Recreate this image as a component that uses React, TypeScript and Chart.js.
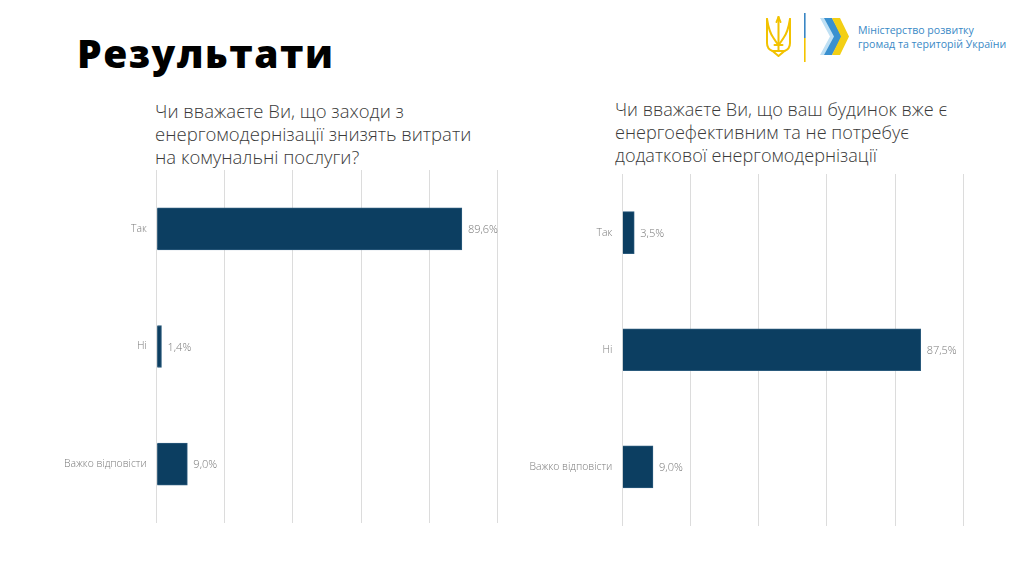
import React, { useEffect, useRef } from "react";
import { Chart, registerables } from "chart.js";

Chart.register(...registerables);

const pageTitle = "Результати";
const leftQuestion = ["Чи вважаєте Ви, що заходи з", "енергомодернізації знизять витрати", "на комунальні послуги?"];
const rightQuestion = ["Чи вважаєте Ви, що ваш будинок вже є", "енергоефективним та не потребує", "додаткової енергомодернізації"];
const categories = ["Так", "Ні", "Важко відповісти"];
const leftValues = [89.6, 1.4, 9.0];
const rightValues = [3.5, 87.5, 9.0];
const ministryLines = ["Міністерство розвитку", "громад та територій України"];

const BAR = "#0c3e61";
const GRID = "#dcdcdc";
const TICK = "#7a7a7a";
const FONT = "'Open Sans', 'Noto Sans', sans-serif";

const labelPlugin = {
  id: "barValueLabels",
  afterDatasetsDraw(chart: any) {
    const ctx = chart.ctx;
    ctx.save();
    ctx.font = `300 11px ${FONT}`;
    ctx.fillStyle = TICK;
    ctx.textAlign = "left";
    ctx.textBaseline = "middle";
    chart.data.datasets.forEach((ds: any, di: number) => {
      const meta = chart.getDatasetMeta(di);
      meta.data.forEach((bar: any, i: number) => {
        const v = ds.data[i] as number;
        const txt = v.toFixed(1).replace(".", ",") + "%";
        ctx.fillText(txt, bar.x + 6, bar.y + 1);
      });
    });
    ctx.restore();
  },
};

function BarChart(props: { values: number[]; width: number; height: number; yWidth: number; padTop: number; padBottom: number; padRight: number }) {
  const ref = useRef<HTMLCanvasElement | null>(null);
  useEffect(() => {
    if (!ref.current) return;
    const chart = new Chart(ref.current, {
      type: "bar",
      data: {
        labels: categories,
        datasets: [
          {
            data: props.values,
            backgroundColor: BAR,
            borderColor: "#2a5a7c",
            borderWidth: 1,
            barThickness: 42,
          },
        ],
      },
      options: {
        indexAxis: "y",
        responsive: false,
        animation: false,
        layout: { padding: { top: props.padTop, bottom: props.padBottom, right: props.padRight, left: 0 } },
        plugins: { legend: { display: false }, tooltip: { enabled: false }, title: { display: false } },
        scales: {
          x: {
            min: 0,
            max: 100,
            ticks: { display: false, stepSize: 20 },
            grid: { color: GRID, drawTicks: false, lineWidth: 1 },
            border: { display: false },
            afterFit: (s: any) => {
              s.height = 0;
              s.paddingLeft = 0;
              s.paddingRight = 0;
            },
          },
          y: {
            ticks: { color: TICK, font: { family: FONT, size: 10.4, weight: "300" as any }, padding: 10 },
            grid: { display: false, drawTicks: false },
            border: { display: false },
            afterFit: (s: any) => {
              s.width = props.yWidth;
              s.paddingTop = 0;
              s.paddingBottom = 0;
            },
          },
        },
      },
      plugins: [labelPlugin],
    });
    return () => chart.destroy();
  }, []);
  return <canvas ref={ref} width={props.width} height={props.height} style={{ width: props.width, height: props.height, display: "block" }} />;
}

function Logo() {
  return (
    <div style={{ position: "absolute", left: 760, top: 10, width: 260, height: 60 }}>
      <svg width={100} height={56} style={{ position: "absolute", left: 0, top: 0 }}>
        {/* trident */}
        <g fill="none" stroke="#f2c200" strokeWidth={2} strokeLinejoin="round" strokeLinecap="round">
          <path d="M18.5 7 L18.5 40" />
          <path d="M18.5 7 L16.5 12 M18.5 7 L20.5 12" />
          <path d="M7 9 L7 33 Q7 39 12.5 41 L24.5 41 Q30 39 30 33 L30 9" />
          <path d="M7 9 Q9 22 13.5 28 Q16 32 18.5 35 Q21 32 23.5 28 Q28 22 30 9" />
          <path d="M12.5 41 L18.5 46 L24.5 41" />
          <path d="M14.5 35 L22.5 35" />
        </g>
        {/* divider */}
        <rect x={44} y={3} width={1.6} height={25} fill="#3a86c4" />
        <rect x={44} y={28} width={1.6} height={24} fill="#f4c400" />
        {/* chevrons */}
        <polygon points="60,8 68,8 78,26.5 68,45 60,45 70,26.5" fill="#bfe0f4" />
        <polygon points="64,8 72,8 82,26.5 72,45 64,45 74,26.5" fill="#3a90cf" />
        <polygon points="72,8 80,8 89,26.5 80,45 72,45 81,26.5" fill="#f3cf14" />
      </svg>
      <div
        style={{
          position: "absolute",
          left: 98,
          top: 13,
          fontFamily: FONT,
          fontSize: 10.6,
          fontWeight: 500,
          lineHeight: "14px",
          color: "#3a89c6",
          whiteSpace: "nowrap",
        }}
      >
        {ministryLines.map((l, i) => (
          <div key={i}>{l}</div>
        ))}
      </div>
    </div>
  );
}

export default function App() {
  const qStyle: React.CSSProperties = {
    position: "absolute",
    fontFamily: FONT,
    fontWeight: 300,
    lineHeight: "23px",
    color: "#3a3a3a",
    whiteSpace: "nowrap",
  };
  return (
    <div style={{ position: "fixed", left: 0, top: 0, width: 1024, height: 576, background: "#ffffff", overflow: "hidden" }}>
      <div
        style={{
          position: "absolute",
          left: 77,
          top: 34,
          fontFamily: FONT,
          fontWeight: 800,
          fontSize: 39,
          letterSpacing: "1.5px",
          lineHeight: "38px",
          color: "#000",
          whiteSpace: "nowrap",
        }}
      >
        {pageTitle}
      </div>
      <Logo />
      <div style={{ ...qStyle, fontSize: 18.5, left: 155, top: 99 }}>
        {leftQuestion.map((l, i) => (
          <div key={i}>{l}</div>
        ))}
      </div>
      <div style={{ ...qStyle, fontSize: 18.1, left: 615, top: 98 }}>
        {rightQuestion.map((l, i) => (
          <div key={i}>{l}</div>
        ))}
      </div>
      <div style={{ position: "absolute", left: 40, top: 160 }}>
        <BarChart values={leftValues} width={480} height={375} yWidth={116.7} padTop={10} padBottom={12} padRight={22.7} />
      </div>
      <div style={{ position: "absolute", left: 505, top: 163.5 }}>
        <BarChart values={rightValues} width={480} height={375} yWidth={117.3} padTop={10} padBottom={13.5} padRight={21.7} />
      </div>
    </div>
  );
}
